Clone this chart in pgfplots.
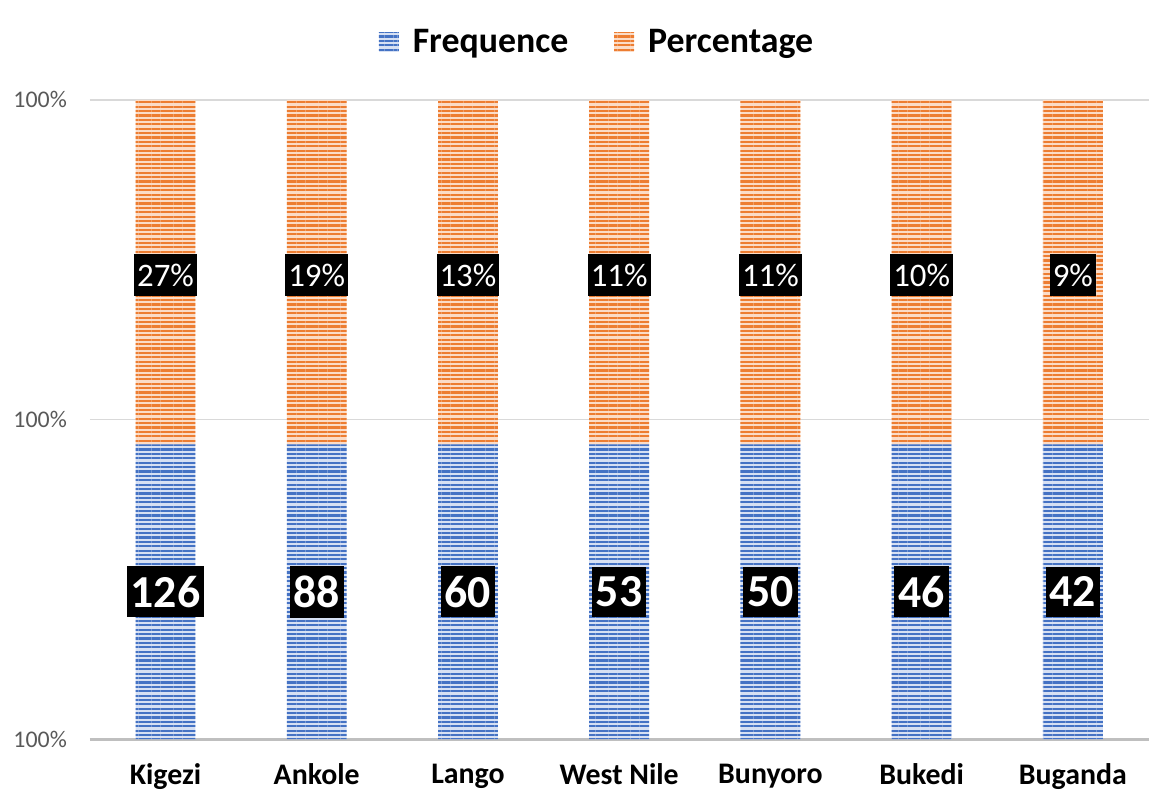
\documentclass[border=0pt]{standalone}
\usepackage{fontspec}
\setmainfont{Carlito}
\usepackage{pgfplots}
\pgfplotsset{compat=1.18}
\usetikzlibrary{patterns.meta}

\definecolor{fblue}{HTML}{4472C4}
\definecolor{fbluelt}{HTML}{D6E0F3}
\definecolor{porange}{HTML}{ED7D31}
\definecolor{porangelt}{HTML}{FBDCC7}
\definecolor{gridgray}{HTML}{D9D9D9}
\definecolor{axisgray}{HTML}{BFBFBF}
\definecolor{ticktext}{HTML}{595959}

\begin{document}
\begin{tikzpicture}
  \begin{axis}[
      name=ax,
      scale only axis,
      width=530bp, height=320bp,
      ybar stacked,
      bar width=30bp,
      xmin=-0.5, xmax=6.5,
      ymin=0, ymax=1,
      xtick=data,
      xticklabels={Kigezi,Ankole,Lango,West Nile,Bunyoro,Bukedi,Buganda},
      xticklabel style={font=\fontsize{15}{17}\selectfont\bfseries, text=black, yshift=-9bp},
      ytick={0,0.5,1},
      yticklabels={100\%,100\%,100\%},
      yticklabel style={font=\fontsize{12}{14}\selectfont, text=ticktext, xshift=-8bp},
      major tick length=0pt,
      axis lines*=left,
      x axis line style={draw=axisgray, line width=1.5bp},
      y axis line style={draw=none},
      ymajorgrids,
      grid style={draw=gridgray, line width=0.75bp},
      clip=false,
      point meta=explicit symbolic,
      legend columns=2,
      legend style={at={(0.48,1.09)}, anchor=center, draw=none, fill=none,
        font=\fontsize{18}{20}\selectfont\bfseries,
        /tikz/every odd column/.append style={column sep=5bp},
        /tikz/every even column/.append style={column sep=21bp}},
      legend image code/.code={\path[#1,draw=none] (0bp,-5bp) rectangle (10bp,5bp);},
    ]
    \addplot[draw=none, fill=fbluelt,
      postaction={pattern={Lines[angle=0,distance=2.2bp,line width=1.1bp]}, pattern color=fblue},
      nodes near coords,
      every node near coord/.append style={anchor=center,
        fill=black, text=white, inner xsep=2bp, inner ysep=5bp,
        font=\fontsize{23}{25}\selectfont\bfseries}]
      coordinates {
        (0,0.461) [126]
        (1,0.461) [88]
        (2,0.461) [60]
        (3,0.461) [53]
        (4,0.461) [50]
        (5,0.461) [46]
        (6,0.461) [42]
      };
    \addlegendentry{Frequence}
    \addplot[draw=none, fill=porangelt,
      postaction={pattern={Lines[angle=0,distance=2.2bp,line width=1.1bp]}, pattern color=porange},
      nodes near coords,
      every node near coord/.append style={anchor=center, yshift=-1.5bp,
        fill=black, text=white, inner xsep=1.5bp, inner ysep=5bp,
        font=\fontsize{16.5}{18}\selectfont}]
      coordinates {
        (0,0.539) [27\%]
        (1,0.539) [19\%]
        (2,0.539) [13\%]
        (3,0.539) [11\%]
        (4,0.539) [11\%]
        (5,0.539) [10\%]
        (6,0.539) [9\%]
      };
    \addlegendentry{Percentage}
  \end{axis}
  \path (-45bp,-28bp) rectangle (530bp,370bp);
\end{tikzpicture}
\end{document}
